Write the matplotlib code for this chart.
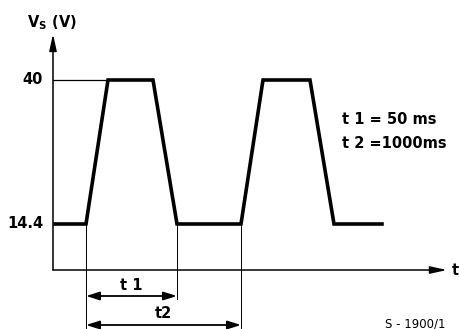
import matplotlib
matplotlib.use('Agg')
import matplotlib.pyplot as plt

# Forma de onda (tiempo en unidades del dibujo, tensión en V)
t_wave = [2, 33, 55, 100, 124, 188, 210, 257, 281, 329]
v_wave = [14.4, 14.4, 40, 40, 14.4, 14.4, 40, 40, 14.4, 14.4]

v_levels = [40, 14.4]
level_labels = ['40', '14.4']

# Cotas t1 y t2 (inicio, fin)
t1_span = [33, 124]
t2_span = [33, 188]
notes = ['t 1 = 50 ms', 't 2 =1000ms']

# Escala: 5.625 px por voltio, origen del eje en 6.22 V
V0 = 6.22
px = 1 / 5.625

fig = plt.figure(figsize=(4.6, 3.29), dpi=100)
ax = fig.add_axes([0, 0, 1, 1])
ax.set_xlim(-53, 407)
ax.set_ylim(14.4 - 105 * px, 14.4 + 224 * px)
ax.axis('off')

font = dict(fontsize=10.5, fontweight='bold', family='DejaVu Sans')

# Ejes con flechas
ax.annotate('', xy=(0, 14.4 + 190 * px), xytext=(0, V0),
            arrowprops=dict(arrowstyle='-|>,head_length=1.0,head_width=0.22', color='black', lw=1.1, shrinkA=0, shrinkB=0))
ax.annotate('', xy=(394, V0), xytext=(0, V0),
            arrowprops=dict(arrowstyle='-|>,head_length=1.0,head_width=0.22', color='black', lw=1.1, shrinkA=0, shrinkB=0))
ax.text(402, V0, 't', va='center', ha='center', **font)
ax.text(-26, 14.4 + 201 * px, r'V$_\mathregular{S}$ (V)', va='center', ha='left', **font)

# Niveles
for v, lab in zip(v_levels, level_labels):
    ax.text(-10, v, lab, va='center', ha='right', **font)
ax.plot([0, t_wave[2]], [v_levels[0], v_levels[0]], color='black', lw=0.9)

# Señal
ax.plot(t_wave, v_wave, color='black', lw=2.6, solid_joinstyle='miter')

# Líneas de referencia verticales
y_t1 = 14.4 - 72 * px
y_t2 = 14.4 - 101 * px
ax.plot([t1_span[0], t1_span[0]], [14.4, y_t2 - 0.5], color='black', lw=0.7)
ax.plot([t1_span[1], t1_span[1]], [14.4, y_t1 - 0.5], color='black', lw=0.7)
ax.plot([t2_span[1], t2_span[1]], [14.4, y_t2 - 0.5], color='black', lw=0.7)

# Cotas
for span, y, lab in [(t1_span, y_t1, 't 1'), (t2_span, y_t2, 't2')]:
    ax.annotate('', xy=(span[1], y), xytext=(span[0], y),
                arrowprops=dict(arrowstyle='<|-|>,head_length=0.8,head_width=0.25', color='black', lw=1.3, shrinkA=0, shrinkB=0))
    ax.text(sum(span) / 2, y + 11 * px, lab, va='center', ha='center', **font)

# Notas
ax.text(289, 14.4 + 104 * px, notes[0], va='center', ha='left', **font)
ax.text(289, 14.4 + 81 * px, notes[1], va='center', ha='left', **font)
ax.text(362, 14.4 - 100 * px, 'S - 1900/1', va='center', ha='center', fontsize=8.5, family='DejaVu Sans')

fig.savefig('out.png', dpi=100)
